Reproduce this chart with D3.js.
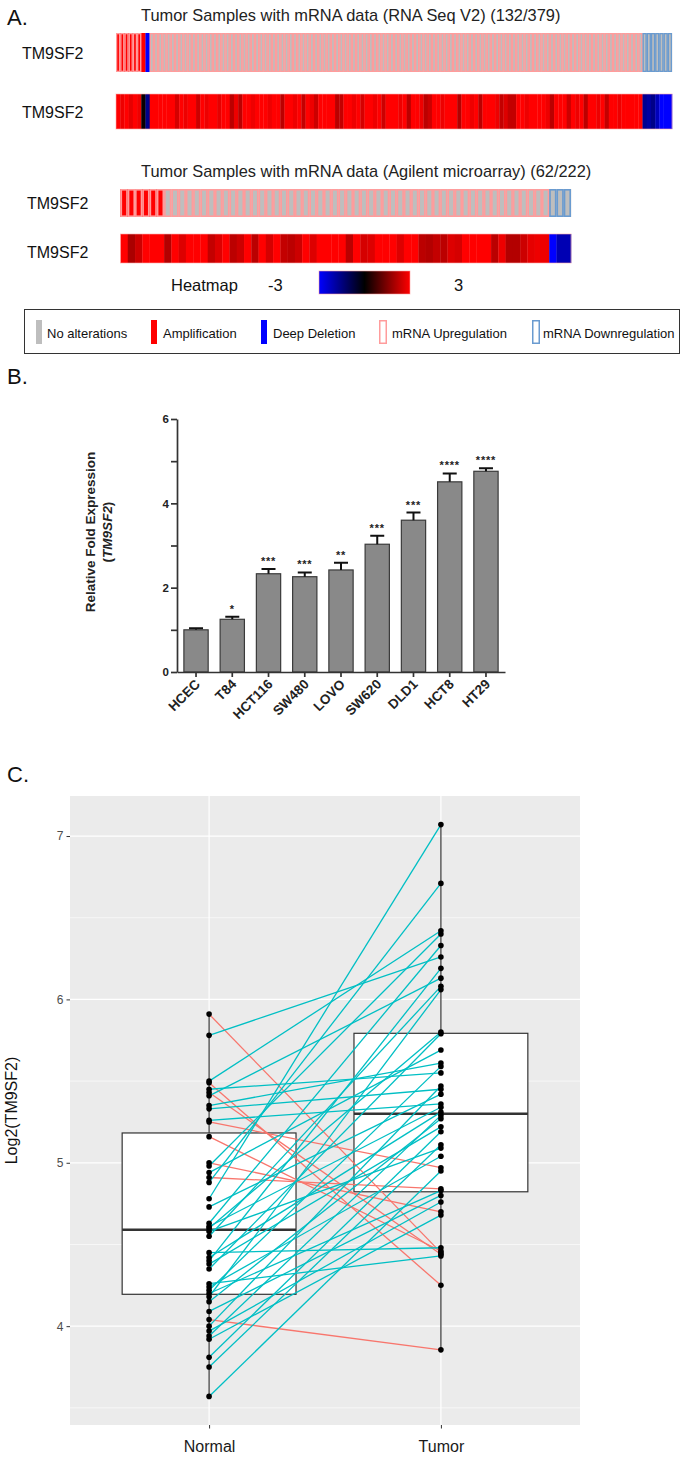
<!DOCTYPE html>
<html><head><meta charset="utf-8">
<script src="https://cdn.jsdelivr.net/npm/d3@7"></script>
<style>
body{margin:0;background:#fff}
svg{display:block}
text{font-family:"Liberation Sans",Arial,Helvetica,sans-serif}
</style>
</head><body>
<svg id="chart" width="685" height="1461"></svg>
<script>
// ---------------- DATA ----------------
const geneName = "TM9SF2";
const rnaseqTitle = "Tumor Samples with mRNA data (RNA Seq V2) (132/379)";
const agilentTitle = "Tumor Samples with mRNA data (Agilent microarray) (62/222)";
// run-length encoded per-sample oncoprint states
const rnaseqCNA = [["AMP", 7], ["HOMDEL", 1], ["NONE", 124]];
const rnaseqMRNA = [["UP", 6], ["NONE", 2], ["UP", 117], ["DOWN", 7]];
const rnaseqZ = [
  3, 2.8, 3, 2.7, 3, 2.8, 0.1, -1.6, 3, 3,
  3, 3, 3, 3, 2.5, 3, 2.8, 3, 3, 2.4,
  3, 2.8, 3, 3, 2.7, 3, 3, 2.2, 2.8, 2.2,
  3, 3, 2.8, 3, 3, 3, 2.8, 3, 3, 2.2,
  3, 3, 2.8, 3, 2.3, 3, 2.8, 2.4, 3, 3,
  3, 3, 2.2, 2.3, 3, 3, 2.8, 3, 2.5, 3,
  3, 2.8, 3, 2.4, 3, 3, 3, 2.8, 3, 2.2,
  3, 3, 2.8, 2.2, 2.4, 3, 3, 2.8, 3, 3,
  3, 2.1, 3, 3, 2.8, 3, 2.2, 3, 3, 3,
  2.8, 2.3, 2.6, 2.3, 2.3, 3, 3, 2.8, 3, 3,
  3, 3, 2.8, 2.2, 3, 3, 3, 2.4, 3, 2.8,
  3, 2.2, 3, 3, 2.8, 3, 2.3, 3, 3, 2.8,
  3, 3, 3, 3, 3, -1.7, -1.9, -1.6, -2.2, -3,
  -3, -3
];
const agilentCNA = [["AMP", 6], ["NONE", 56]];
const agilentMRNA = [["UP", 59], ["DOWN", 3]];
const agilentZ = [
  3, 2.0, 2.4, 3, 3, 3, 2.1, 3, 2.6, 3,
  3, 3, 2.3, 2.6, 3, 2.2, 2.4, 3, 2.2, 3,
  2.5, 3, 2.3, 2.2, 2.4, 3, 2.6, 3, 3, 3,
  3, 2.2, 3, 2.5, 2.6, 3, 3, 3, 2.6, 3,
  3, 2.2, 2.1, 2.3, 2.2, 2.6, 2.5, 3, 3, 3,
  3, 2.2, 2.8, 2.1, 2.1, 2.4, 2.7, 2.8, 2.8, -3,
  -2.1, -2.1
];
const heatLegendLabels = ["-3", "3"];
const legendItems = ["No alterations", "Amplification", "Deep Deletion", "mRNA Upregulation", "mRNA Downregulation"];

const cellLines = ["HCEC", "T84", "HCT116", "SW480", "LOVO", "SW620", "DLD1", "HCT8", "HT29"];
const foldMean = [1.00, 1.25, 2.33, 2.26, 2.42, 3.03, 3.60, 4.51, 4.76];
const foldSEM = [0.04, 0.06, 0.11, 0.10, 0.17, 0.20, 0.18, 0.20, 0.07];
const signif = ["", "*", "***", "***", "**", "***", "***", "****", "****"];
const barTicks = [0, 1, 2, 3, 4, 5, 6];

const groups = ["Normal", "Tumor"];
const normalExpr = [5.91, 5.78, 5.50, 5.49, 5.45, 5.43, 5.41, 5.35, 5.33, 5.26, 5.25, 5.16, 5.00, 4.98, 4.94, 4.91, 4.88, 4.78, 4.73, 4.63, 4.61, 4.60, 4.58, 4.55, 4.45, 4.42, 4.40, 4.38, 4.35, 4.26, 4.24, 4.22, 4.20, 4.18, 4.15, 4.09, 4.04, 4.00, 3.97, 3.94, 3.92, 3.81, 3.75, 3.57];
const tumorExpr  = [4.45, 6.26, 6.42, 4.25, 5.55, 4.44, 6.13, 5.61, 5.45, 5.36, 4.97, 4.46, 4.70, 6.40, 5.69, 4.84, 6.71, 7.07, 5.42, 6.33, 5.34, 5.80, 5.09, 6.08, 4.48, 5.31, 6.19, 5.22, 5.79, 4.43, 5.04, 5.59, 4.83, 6.06, 5.27, 4.80, 3.855, 5.47, 4.76, 5.29, 4.68, 5.19, 5.11, 4.95];
const exprTicks = [4, 5, 6, 7];
const exprMinor = [3.5, 4.5, 5.5, 6.5];

// ---------------- DRAW ----------------
const svg = d3.select("#chart");
const FONT = '"Liberation Sans",Arial,Helvetica,sans-serif';

function expand(runs) { const out = []; runs.forEach(([t, n]) => { for (let i = 0; i < n; i++) out.push(t); }); return out; }

// panel letters
[["A.", 25], ["B.", 384], ["C.", 782]].forEach(([t, y]) =>
  svg.append("text").attr("x", 7).attr("y", y).attr("font-size", 22).attr("fill", "#111").text(t));

// ===== Panel A =====
const gA = svg.append("g");
const fillMap = { NONE: "#bebebe", AMP: "#ff0000", HOMDEL: "#0000ff" };
const strokeMap = { UP: "#ff9c9c", DOWN: "#6a9bd0" };
const heatColor = d3.scaleLinear().domain([-3, 0, 3]).range(["#0000ff", "#000000", "#ff0000"]).clamp(true);

function drawOnco(cnaRuns, mrnaRuns, x0, x1, y0, y1, sw) {
  const cna = expand(cnaRuns), mrna = expand(mrnaRuns);
  const xs = d3.scaleBand().domain(d3.range(cna.length)).range([x0, x1]);
  const bw = xs.bandwidth();
  const g = gA.append("g");
  g.selectAll("rect.f").data(d3.range(cna.length)).join("rect").attr("class", "f")
    .attr("x", i => xs(i)).attr("y", y0).attr("width", bw + 0.2).attr("height", y1 - y0)
    .attr("fill", i => fillMap[cna[i]]);
  g.selectAll("rect.o").data(d3.range(cna.length).filter(i => strokeMap[mrna[i]])).join("rect").attr("class", "o")
    .attr("x", i => xs(i) + sw / 2).attr("y", y0 + sw / 2).attr("width", bw - sw).attr("height", y1 - y0 - sw)
    .attr("fill", "none").attr("stroke", i => strokeMap[mrna[i]]).attr("stroke-width", sw);
}
function drawHeat(z, x0, x1, y0, y1) {
  const xs = d3.scaleBand().domain(d3.range(z.length)).range([x0, x1]);
  const g = gA.append("g");
  g.selectAll("rect").data(z).join("rect")
    .attr("x", (d, i) => xs(i)).attr("y", y0).attr("width", xs.bandwidth() + 0.3).attr("height", y1 - y0)
    .attr("fill", d => heatColor(d));
  g.append("rect").attr("x", x0).attr("y", y0).attr("width", x1 - x0).attr("height", y1 - y0)
    .attr("fill", "none").attr("stroke", "rgba(255,170,170,0.6)").attr("stroke-width", 1);
}

gA.append("text").attr("x", 141).attr("y", 21).attr("font-size", 16.4).attr("fill", "#222").text(rnaseqTitle);
gA.append("text").attr("x", 141).attr("y", 177).attr("font-size", 16.4).attr("fill", "#222").text(agilentTitle);
[[22, 59], [22, 118], [27, 209], [27, 258]].forEach(([x, y]) =>
  gA.append("text").attr("x", x).attr("y", y).attr("font-size", 16).attr("fill", "#111").text(geneName));

drawOnco(rnaseqCNA, rnaseqMRNA, 116, 672, 33, 72, 1.3);
drawHeat(rnaseqZ, 116, 672, 94, 129);
drawOnco(agilentCNA, agilentMRNA, 120.5, 571, 189, 217, 1.6);
drawHeat(agilentZ, 120.5, 571, 234, 263);

// heatmap legend
const defs = svg.append("defs");
const grad = defs.append("linearGradient").attr("id", "hg");
heatColor.domain().forEach((v, i, a) => grad.append("stop").attr("offset", (i / (a.length - 1)) * 100 + "%").attr("stop-color", heatColor(v)));
gA.append("text").attr("x", 171).attr("y", 291).attr("font-size", 16.5).attr("fill", "#111").text("Heatmap");
gA.append("text").attr("x", 268).attr("y", 291).attr("font-size", 16.5).attr("fill", "#111").text(heatLegendLabels[0]);
gA.append("rect").attr("x", 319).attr("y", 271).attr("width", 91).attr("height", 23).attr("fill", "url(#hg)")
  .attr("stroke", "rgba(255,160,160,0.7)").attr("stroke-width", 0.8);
gA.append("text").attr("x", 454).attr("y", 291).attr("font-size", 16.5).attr("fill", "#111").text(heatLegendLabels[1]);

// alteration legend
gA.append("rect").attr("x", 24.5).attr("y", 309.5).attr("width", 655).attr("height", 44).attr("fill", "#fff").attr("stroke", "#333").attr("stroke-width", 1);
const legX = [36, 151, 261, 379, 532];
const legTextX = [47, 163, 273, 392, 543];
legendItems.forEach((t, i) => {
  if (i < 3) {
    gA.append("rect").attr("x", legX[i]).attr("y", 320).attr("width", 6).attr("height", 24).attr("fill", [fillMap.NONE, fillMap.AMP, fillMap.HOMDEL][i]);
  } else {
    gA.append("rect").attr("x", legX[i] + 0.75).attr("y", 320.75).attr("width", 6.5).attr("height", 22.5).attr("fill", "#fff")
      .attr("stroke", i === 3 ? strokeMap.UP : strokeMap.DOWN).attr("stroke-width", 1.5);
  }
  gA.append("text").attr("x", legTextX[i]).attr("y", 338).attr("font-size", 13).attr("fill", "#111").text(t);
});

// ===== Panel B =====
const gB = svg.append("g");
const xb = d3.scaleBand().domain(cellLines).range([177, 505]).paddingInner(0.33).paddingOuter(0.19);
const yb = d3.scaleLinear().domain([0, 6]).range([672, 419]);
const barData = cellLines.map((c, i) => ({ c, m: foldMean[i], e: foldSEM[i], s: signif[i] }));

gB.selectAll("rect.bar").data(barData).join("rect").attr("class", "bar")
  .attr("x", d => xb(d.c)).attr("y", d => yb(d.m)).attr("width", xb.bandwidth()).attr("height", d => yb(0) - yb(d.m))
  .attr("fill", "#898989").attr("stroke", "#3a3a3a").attr("stroke-width", 1.2);
gB.selectAll("path.err").data(barData).join("path").attr("class", "err")
  .attr("d", d => {
    const cx = xb(d.c) + xb.bandwidth() / 2, y0 = yb(d.m), y1 = yb(d.m + d.e);
    return `M${cx},${y0}V${y1}M${cx - 7},${y1}H${cx + 7}`;
  })
  .attr("fill", "none").attr("stroke", "#111").attr("stroke-width", 2);
gB.selectAll("text.sig").data(barData).join("text").attr("class", "sig")
  .attr("x", d => xb(d.c) + xb.bandwidth() / 2).attr("y", d => yb(d.m + d.e) - 4)
  .attr("text-anchor", "middle").attr("font-size", 11).attr("font-weight", "bold").attr("letter-spacing", 0.8)
  .attr("fill", "#222").text(d => d.s);

const yAxisB = gB.append("g").attr("transform", "translate(177,0)")
  .call(d3.axisLeft(yb).tickValues(barTicks).tickFormat(d => d % 2 === 0 ? d : "").tickSize(6).tickSizeOuter(0));
const xAxisB = gB.append("g").attr("transform", "translate(0,672)")
  .call(d3.axisBottom(xb).tickSize(5).tickSizeOuter(0));
[yAxisB, xAxisB].forEach(a => {
  a.selectAll("path,line").attr("stroke", "#333").attr("stroke-width", 1.7);
  a.selectAll("text").attr("font-family", FONT).attr("font-weight", "bold").attr("fill", "#222");
});
yAxisB.selectAll("text").attr("font-size", 11.5).attr("x", -8);
xAxisB.selectAll("text").attr("font-size", 13.5).attr("text-anchor", "end")
  .attr("dx", 0).attr("dy", 0).attr("transform", "translate(5,13) rotate(-45)").attr("y", 0);

gB.append("text").attr("transform", "translate(95,532) rotate(-90)").attr("text-anchor", "middle")
  .attr("font-size", 13.5).attr("font-weight", "bold").attr("fill", "#222").text("Relative Fold Expression");
const yl2 = gB.append("text").attr("transform", "translate(112,532) rotate(-90)").attr("text-anchor", "middle")
  .attr("font-size", 13.5).attr("font-weight", "bold").attr("fill", "#222");
yl2.append("tspan").text("(");
yl2.append("tspan").attr("font-style", "italic").text(geneName);
yl2.append("tspan").text(")");

// ===== Panel C =====
const gC = svg.append("g");
const px0 = 70, px1 = 580, py0 = 796, py1 = 1425;
const xc = d3.scaleLinear().domain([0.4, 2.6]).range([px0, px1]);
const yc = d3.scaleLinear().domain([3.395, 7.245]).range([py1, py0]);

gC.append("rect").attr("x", px0).attr("y", py0).attr("width", px1 - px0).attr("height", py1 - py0).attr("fill", "#ebebeb");
gC.selectAll("line.minor").data(exprMinor).join("line").attr("class", "minor")
  .attr("x1", px0).attr("x2", px1).attr("y1", d => yc(d)).attr("y2", d => yc(d)).attr("stroke", "#fff").attr("stroke-width", 0.6);
gC.selectAll("line.major").data(exprTicks).join("line").attr("class", "major")
  .attr("x1", px0).attr("x2", px1).attr("y1", d => yc(d)).attr("y2", d => yc(d)).attr("stroke", "#fff").attr("stroke-width", 1.2);
gC.selectAll("line.vmajor").data(groups).join("line").attr("class", "vmajor")
  .attr("x1", (d, i) => xc(i + 1)).attr("x2", (d, i) => xc(i + 1)).attr("y1", py0).attr("y2", py1)
  .attr("stroke", "#fff").attr("stroke-width", 1.2);

// boxplots
const series = [normalExpr, tumorExpr];
series.forEach((vals, gi) => {
  const s = vals.slice().sort(d3.ascending);
  const q1 = d3.quantile(s, 0.25), med = d3.quantile(s, 0.5), q3 = d3.quantile(s, 0.75);
  const iqr = q3 - q1;
  const lo = d3.min(s.filter(v => v >= q1 - 1.5 * iqr)), hi = d3.max(s.filter(v => v <= q3 + 1.5 * iqr));
  const cx = xc(gi + 1), hw = xc(1.375) - xc(1);
  gC.append("line").attr("x1", cx).attr("x2", cx).attr("y1", yc(hi)).attr("y2", yc(q3)).attr("stroke", "#333").attr("stroke-width", 1.2);
  gC.append("line").attr("x1", cx).attr("x2", cx).attr("y1", yc(q1)).attr("y2", yc(lo)).attr("stroke", "#333").attr("stroke-width", 1.2);
  gC.append("rect").attr("x", cx - hw).attr("y", yc(q3)).attr("width", 2 * hw).attr("height", yc(q1) - yc(q3))
    .attr("fill", "#fff").attr("stroke", "#333").attr("stroke-width", 1.2);
  gC.append("line").attr("x1", cx - hw).attr("x2", cx + hw).attr("y1", yc(med)).attr("y2", yc(med)).attr("stroke", "#333").attr("stroke-width", 2.4);
});

// paired lines
const pairs = normalExpr.map((n, i) => ({ n, t: tumorExpr[i] }));
gC.selectAll("line.pair").data(pairs).join("line").attr("class", "pair")
  .attr("x1", xc(1)).attr("x2", xc(2)).attr("y1", d => yc(d.n)).attr("y2", d => yc(d.t))
  .attr("stroke", d => d.t < d.n ? "#F8766D" : "#00BFC4").attr("stroke-width", 1.3);

// points
series.forEach((vals, gi) => {
  gC.selectAll(null).data(vals).join("circle")
    .attr("cx", xc(gi + 1)).attr("cy", d => yc(d)).attr("r", 2.8).attr("fill", "#000");
});

// axes
const yAxisC = gC.append("g").attr("transform", `translate(${px0},0)`)
  .call(d3.axisLeft(yc).tickValues(exprTicks).tickSize(3.5).tickPadding(3).tickFormat(d3.format("d")));
yAxisC.select(".domain").remove();
yAxisC.selectAll("line").attr("stroke", "#333");
yAxisC.selectAll("text").attr("font-family", FONT).attr("font-size", 12).attr("fill", "#4d4d4d");
const xAxisC = gC.append("g").attr("transform", `translate(0,${py1})`)
  .call(d3.axisBottom(xc).tickValues([1, 2]).tickSize(3.5).tickPadding(12).tickFormat(d => groups[d - 1]));
xAxisC.select(".domain").remove();
xAxisC.selectAll("line").attr("stroke", "#333");
xAxisC.selectAll("text").attr("font-family", FONT).attr("font-size", 16).attr("fill", "#1a1a1a");

gC.append("text").attr("transform", `translate(17,${(py0 + py1) / 2}) rotate(-90)`).attr("text-anchor", "middle")
  .attr("font-size", 16).attr("fill", "#111").text("Log2(" + geneName + ")");
</script>
</body></html>
